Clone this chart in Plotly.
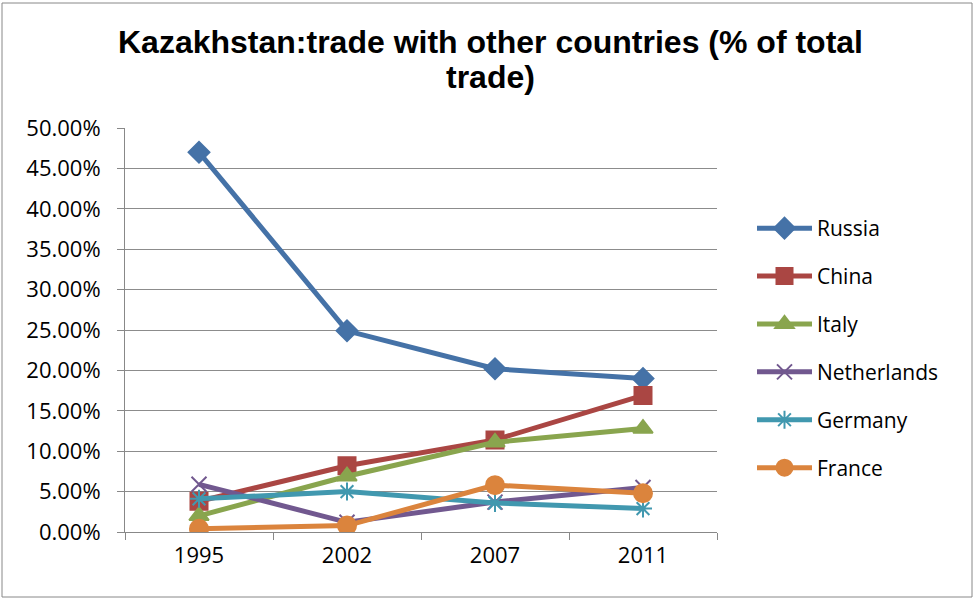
import plotly.graph_objects as go

years = ["1995", "2002", "2007", "2011"]
russia = [0.470, 0.249, 0.202, 0.190]
china = [0.038, 0.082, 0.114, 0.169]
italy = [0.020, 0.069, 0.111, 0.128]
netherlands = [0.059, 0.012, 0.037, 0.055]
germany = [0.041, 0.050, 0.036, 0.029]
france = [0.004, 0.008, 0.058, 0.048]

title_lines = ["Kazakhstan:trade with other countries (% of total", "trade)"]

series = [
    ("Russia", russia, "#4572A7", "diamond", 16),
    ("China", china, "#AA4643", "square", 17),
    ("Italy", italy, "#89A54E", "triangle-up", 17),
    ("Netherlands", netherlands, "#71588F", "x-thin-open", 15),
    ("Germany", germany, "#4198AF", "asterisk-open", 15),
    ("France", france, "#DB843D", "circle", 18),
]

fig = go.Figure()
for name, vals, color, sym, size in series:
    fig.add_trace(go.Scatter(
        x=years, y=vals, name=name, mode="lines+markers",
        line=dict(color=color, width=5),
        marker=dict(symbol=sym, size=size, color=color,
                    line=dict(color=color, width=2)),
        legendgroup=name,
    ))

L, R, T, B = 125, 259, 128, 69
W, H = 976, 601
pw, ph = W - L - R, H - T - B

def px_y(y):
    return (H - B - y) / ph

def px_x(x):
    return (x - L) / pw

fig.update_layout(
    width=W, height=H,
    margin=dict(l=L, r=R, t=T, b=B),
    paper_bgcolor="white", plot_bgcolor="white",
    font=dict(family="Open Sans, sans-serif", size=22, color="black"),
    legend=dict(
        x=px_x(752), y=px_y(348), xanchor="left", yanchor="middle",
        font=dict(size=21), tracegroupgap=17.6, itemwidth=55,
        bgcolor="rgba(0,0,0,0)",
    ),
    xaxis=dict(
        type="category", range=[-0.5, 3.5], tickson="boundaries",
        ticks="outside", ticklen=7,
        tickcolor="#888", showline=True, linecolor="#888", linewidth=1,
        showgrid=False, tickfont=dict(size=22), ticklabelstandoff=4,
    ),
    yaxis=dict(
        range=[0, 0.5], dtick=0.05, tickformat=".2%", ticks="outside", ticklen=7,
        tickcolor="#888", showline=True, linecolor="#888", linewidth=1,
        showgrid=True, gridcolor="#8c8c8c", gridwidth=1, zeroline=False,
        tickfont=dict(size=22), ticklabelstandoff=12,
    ),
    showlegend=True,
)

for txt, yc in zip(title_lines, [42, 77]):
    fig.add_annotation(
        text="<b>" + txt + "</b>", xref="paper", yref="paper",
        x=px_x(490), y=px_y(yc), xanchor="center", yanchor="middle",
        showarrow=False,
        font=dict(family="Liberation Sans, Arial", size=32, color="black"),
    )

fig.add_shape(type="rect", xref="paper", yref="paper",
              x0=px_x(2), x1=px_x(972),
              y0=px_y(597), y1=px_y(3),
              line=dict(color="#888", width=1), fillcolor="rgba(0,0,0,0)", layer="below")

fig.write_html("out.html", config={"displayModeBar": False},
               post_script="document.body.style.margin='0px';")
